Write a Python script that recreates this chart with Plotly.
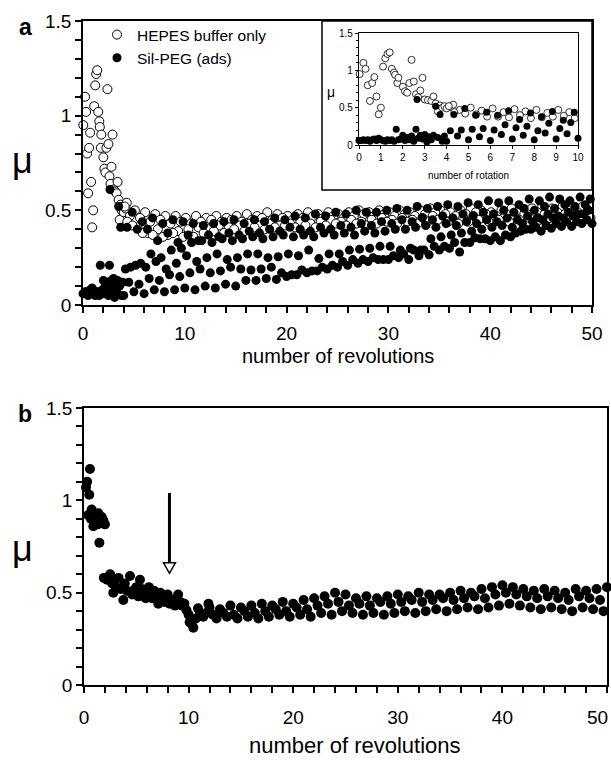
import plotly.graph_objects as go

W, H = 611, 760
FONT = "Arial, Liberation Sans, sans-serif"

# ---------------- data: panel a ----------------
hepes_early_x = [0.03, 0.2, 0.3, 0.4, 0.5, 0.6, 0.7, 0.8, 0.9, 1.0, 1.1, 1.2, 1.3, 1.4, 1.5, 1.6, 1.65, 1.75,
                 1.8, 2.0, 2.1, 2.2, 2.3, 2.4, 2.5, 2.6, 2.7, 2.8, 2.9, 3.0, 3.15, 3.3, 3.4, 3.5, 3.6, 3.7,
                 3.8, 3.9, 4.0, 4.2, 4.3]
hepes_early_y = [0.95, 1.10, 1.02, 0.80, 0.59, 0.83, 0.91, 0.65, 0.41, 0.50, 1.05, 1.16, 1.22, 1.24, 1.02, 0.97,
                 0.94, 0.83, 0.90, 0.78, 0.72, 0.70, 0.83, 1.14, 0.85, 0.68, 0.64, 0.73, 0.90, 0.61, 0.60, 0.59,
                 0.65, 0.555, 0.45, 0.53, 0.50, 0.52, 0.49, 0.51, 0.54]

peg_early_x = [0.0, 0.1, 0.2, 0.3, 0.4, 0.5, 0.6, 0.7, 0.8, 0.9, 1.0, 1.1, 1.2, 1.3, 1.4, 1.5, 1.6, 1.7, 1.8,
               1.9, 2.0, 2.1, 2.2, 2.3, 2.4, 2.5, 2.6, 2.65, 2.7, 2.8, 2.9, 3.0, 3.1, 3.2, 3.3, 3.4, 3.5, 3.6,
               3.7, 3.8, 3.9]
peg_early_y = [0.06, 0.06, 0.07, 0.06, 0.07, 0.05, 0.07, 0.08, 0.06, 0.09, 0.07, 0.06, 0.05, 0.07, 0.06, 0.07,
               0.05, 0.21, 0.07, 0.08, 0.13, 0.06, 0.10, 0.07, 0.12, 0.05, 0.21, 0.61, 0.09, 0.13, 0.08, 0.14,
               0.04, 0.11, 0.07, 0.13, 0.52, 0.10, 0.41, 0.05, 0.12]

revs_a = [4, 5, 6, 7, 8, 9, 10, 11, 12, 13, 14, 15, 16, 17, 18, 19, 20, 21, 22, 23, 24, 25, 26, 27, 28, 29, 30,
          31, 32, 33, 34, 35, 36, 37, 38, 39, 40, 41, 42, 43, 44, 45, 46, 47, 48, 49, 50]

# position of each sampled band within a revolution (fraction of a turn)
hepes_phases = [0.1, 0.6, 0.35, 0.85]
hepes_o1 = [0.52, 0.50, 0.49, 0.48, 0.47, 0.47, 0.46, 0.47, 0.46, 0.47, 0.46, 0.47, 0.48, 0.47, 0.49, 0.48,
            0.47, 0.48, 0.49, 0.48, 0.49, 0.48, 0.49, 0.50, 0.49, 0.50, 0.49, 0.50, 0.49, 0.50, 0.51, 0.50,
            0.49, 0.50, 0.51, 0.50, 0.49, 0.50, 0.51, 0.50, 0.51, 0.52, 0.51, 0.52, 0.51, 0.52, 0.51]
hepes_o2 = [0.47, 0.46, 0.44, 0.45, 0.43, 0.44, 0.43, 0.44, 0.45, 0.44, 0.45, 0.44, 0.45, 0.46, 0.45, 0.46,
            0.45, 0.46, 0.47, 0.46, 0.47, 0.46, 0.47, 0.48, 0.47, 0.48, 0.47, 0.48, 0.47, 0.48, 0.49, 0.48,
            0.47, 0.48, 0.49, 0.48, 0.47, 0.48, 0.49, 0.48, 0.49, 0.50, 0.49, 0.50, 0.49, 0.50, 0.49]
hepes_o3 = [0.44, 0.41, 0.38, 0.40, 0.37, 0.39, 0.40, 0.41, 0.40, 0.42, 0.41, 0.42, 0.43, 0.42, 0.43, 0.42,
            0.43, 0.44, 0.43, 0.44, 0.45, 0.44, 0.45, 0.44, 0.45, 0.46, 0.45, 0.46, 0.45, 0.46, 0.47, 0.46,
            0.45, 0.46, 0.47, 0.46, 0.47, 0.46, 0.47, 0.48, 0.47, 0.48, 0.47, 0.48, 0.47, 0.48, 0.49]
hepes_o4 = [0.42, 0.38, 0.37, 0.36, 0.38, 0.36, 0.36, 0.38, 0.39, 0.38, 0.40, 0.39, 0.41, 0.40, 0.41, 0.42,
            0.41, 0.42, 0.41, 0.42, 0.43, 0.42, 0.43, 0.42, 0.43, 0.44, 0.43, 0.44, 0.43, 0.44, 0.45, 0.44,
            0.43, 0.44, 0.45, 0.44, 0.45, 0.44, 0.45, 0.46, 0.45, 0.46, 0.45, 0.46, 0.45, 0.46, 0.47]

peg_phases = [0.0, 0.5, 0.17, 0.67, 0.33, 0.83]
peg_f1 = [0.05, 0.07, 0.06, 0.08, 0.07, 0.08, 0.09, 0.08, 0.10, 0.09, 0.11, 0.10, 0.13, 0.13, 0.14, 0.135,
          0.15, 0.16, 0.17, 0.18, 0.19, 0.20, 0.21, 0.22, 0.23, 0.24, 0.24, 0.25, 0.24, 0.26, 0.265, 0.29,
          0.30, 0.28, 0.33, 0.35, 0.34, 0.34, 0.36, 0.39, 0.40, 0.39, 0.405, 0.415, 0.415, 0.43, 0.43]
peg_f2 = [0.12, 0.11, 0.14, 0.13, 0.16, 0.15, 0.17, 0.19, 0.17, 0.18, 0.20, 0.19, 0.185, 0.19, 0.20, 0.17,
          0.16, 0.185, 0.18, 0.20, 0.21, 0.23, 0.24, 0.24, 0.25, 0.24, 0.26, 0.27, 0.29, 0.29, 0.31, 0.31,
          0.33, 0.33, 0.355, 0.35, 0.36, 0.37, 0.38, 0.40, 0.41, 0.42, 0.43, 0.44, 0.44, 0.45, 0.46]
peg_f3 = [0.19, 0.21, 0.20, 0.23, 0.19, 0.22, 0.26, 0.23, 0.25, 0.27, 0.24, 0.25, 0.27, 0.27, 0.25, 0.255,
          0.27, 0.26, 0.29, 0.245, 0.27, 0.27, 0.29, 0.295, 0.30, 0.31, 0.31, 0.29, 0.30, 0.29, 0.35, 0.36,
          0.37, 0.38, 0.39, 0.40, 0.41, 0.42, 0.41, 0.43, 0.44, 0.45, 0.46, 0.46, 0.47, 0.48, 0.47]
peg_f4 = [0.20, 0.22, 0.27, 0.25, 0.29, 0.30, 0.33, 0.34, 0.33, 0.35, 0.34, 0.35, 0.36, 0.35, 0.36, 0.37,
          0.36, 0.37, 0.36, 0.38, 0.37, 0.38, 0.37, 0.39, 0.38, 0.39, 0.40, 0.40, 0.41, 0.42, 0.41, 0.43,
          0.42, 0.44, 0.43, 0.45, 0.44, 0.46, 0.45, 0.47, 0.46, 0.48, 0.47, 0.49, 0.48, 0.50, 0.49]
peg_f5 = [0.41, 0.40, 0.40, 0.34, 0.38, 0.33, 0.37, 0.34, 0.37, 0.36, 0.38, 0.37, 0.39, 0.38, 0.40, 0.39,
          0.41, 0.40, 0.39, 0.41, 0.40, 0.42, 0.41, 0.43, 0.42, 0.44, 0.43, 0.45, 0.44, 0.46, 0.45, 0.47,
          0.46, 0.48, 0.47, 0.49, 0.48, 0.50, 0.49, 0.51, 0.50, 0.52, 0.51, 0.53, 0.52, 0.53, 0.52]
peg_f6 = [0.49, 0.44, 0.46, 0.43, 0.45, 0.44, 0.43, 0.42, 0.43, 0.44, 0.45, 0.43, 0.45, 0.44, 0.46, 0.45,
          0.47, 0.46, 0.48, 0.47, 0.49, 0.48, 0.50, 0.49, 0.49, 0.50, 0.51, 0.50, 0.52, 0.51, 0.52, 0.53,
          0.52, 0.54, 0.53, 0.55, 0.54, 0.55, 0.53, 0.56, 0.55, 0.57, 0.56, 0.55, 0.57, 0.56, 0.58]

# ---------------- data: panel b ----------------
b_early_x = [0.19, 0.3, 0.4, 0.5, 0.57, 0.65, 0.73, 0.8, 0.89, 1.0, 1.05, 1.2, 1.3, 1.37, 1.47, 1.55, 1.69,
             1.85, 2.0, 1.9, 2.2, 2.5, 2.7, 2.8, 2.96, 3.1, 3.3, 3.5, 3.76, 3.9, 4.1, 4.4, 4.6, 4.7, 5.0, 5.2,
             5.35, 5.5, 5.7, 5.9, 6.2, 6.4, 6.5, 6.7, 6.9, 7.1, 7.3, 7.5, 7.7, 8.0, 8.2, 8.5, 8.7, 9.0, 9.2,
             9.4, 9.6, 9.8, 10.0, 10.1, 10.3, 10.45, 10.7, 10.9, 11.1, 11.4, 11.7, 11.9]
b_early_y = [1.07, 1.10, 0.92, 1.03, 1.17, 0.90, 0.95, 0.92, 0.86, 0.88, 0.91, 0.89, 0.87, 0.93, 0.77, 0.90,
             0.91, 0.89, 0.87, 0.58, 0.57, 0.60, 0.55, 0.50, 0.57, 0.53, 0.58, 0.52, 0.46, 0.55, 0.51, 0.59,
             0.49, 0.51, 0.53, 0.48, 0.57, 0.52, 0.50, 0.47, 0.53, 0.49, 0.47, 0.51, 0.48, 0.44, 0.50, 0.47,
             0.45, 0.49, 0.44, 0.46, 0.43, 0.49, 0.45, 0.43, 0.44, 0.405, 0.38, 0.34, 0.33, 0.31, 0.36, 0.415,
             0.39, 0.37, 0.39, 0.44]

revs_b = [12, 13, 14, 15, 16, 17, 18, 19, 20, 21, 22, 23, 24, 25, 26, 27, 28, 29, 30, 31, 32, 33, 34, 35, 36,
          37, 38, 39, 40, 41, 42, 43, 44, 45, 46, 47, 48, 49, 50]
b_phases = [0.0, 0.33, 0.67]
b_top = [0.42, 0.41, 0.43, 0.42, 0.43, 0.44, 0.43, 0.45, 0.44, 0.46, 0.47, 0.48, 0.50, 0.49, 0.47, 0.48, 0.47,
         0.48, 0.49, 0.48, 0.50, 0.49, 0.49, 0.50, 0.51, 0.50, 0.52, 0.53, 0.54, 0.53, 0.52, 0.51, 0.52, 0.51,
         0.50, 0.52, 0.51, 0.52, 0.53]
b_mid = [0.38, 0.39, 0.38, 0.40, 0.39, 0.40, 0.41, 0.40, 0.42, 0.41, 0.43, 0.44, 0.45, 0.43, 0.44, 0.43, 0.45,
         0.44, 0.45, 0.46, 0.45, 0.46, 0.47, 0.46, 0.47, 0.48, 0.47, 0.49, 0.50, 0.49, 0.48, 0.47, 0.48, 0.47,
         0.46, 0.48, 0.47, 0.46, 0.48]
b_low = [0.36, 0.37, 0.36, 0.37, 0.36, 0.37, 0.38, 0.37, 0.38, 0.37, 0.39, 0.38, 0.40, 0.39, 0.38, 0.39, 0.38,
         0.39, 0.40, 0.39, 0.40, 0.41, 0.40, 0.41, 0.42, 0.41, 0.42, 0.43, 0.44, 0.43, 0.42, 0.41, 0.42, 0.41,
         0.40, 0.42, 0.41, 0.40, 0.42]

x_ticks = [0, 10, 20, 30, 40, 50]
x_tick_text = ["0", "10", "20", "30", "40", "50"]
b_x_tick_text = ["0", "10", "20", "30", "40", ""]   # last label drawn separately (shifted left, as in original)
y_ticks = [0, 0.5, 1, 1.5]
y_tick_text = ["0", "0.5", "1", "1.5"]
inset_x_ticks = [0, 1, 2, 3, 4, 5, 6, 7, 8, 9, 10]


def combine(early_x, early_y, revs, phases, bands, xmax=50.0):
    xs, ys = list(early_x), list(early_y)
    for ph, band in zip(phases, bands):
        for r, v in zip(revs, band):
            if r + ph <= xmax + 1e-9:
                xs.append(r + ph)
                ys.append(v)
    return xs, ys


def limit(xs, ys, xmax):
    pairs = [(a, b) for a, b in zip(xs, ys) if a <= xmax]
    return [p[0] for p in pairs], [p[1] for p in pairs]


hx, hy = combine(hepes_early_x, hepes_early_y, revs_a, hepes_phases,
                 [hepes_o1, hepes_o2, hepes_o3, hepes_o4])
sx, sy = combine(peg_early_x, peg_early_y, revs_a, peg_phases,
                 [peg_f1, peg_f2, peg_f3, peg_f4, peg_f5, peg_f6])
bx, by = combine(b_early_x, b_early_y, revs_b, b_phases, [b_top, b_mid, b_low])


def px(x):
    return x / W


def py(y):
    return 1 - y / H


fig = go.Figure()

open_marker = dict(symbol="circle", size=9, color="white", line=dict(color="black", width=1))
full_marker = dict(symbol="circle", size=9, color="black", line=dict(color="black", width=0))

fig.add_trace(go.Scatter(x=hx, y=hy, mode="markers", marker=open_marker, name="HEPES buffer only",
                         xaxis="x", yaxis="y", cliponaxis=False))
fig.add_trace(go.Scatter(x=sx, y=sy, mode="markers", marker=full_marker, name="Sil-PEG (ads)",
                         xaxis="x", yaxis="y", cliponaxis=False))

ihx, ihy = limit(hx, hy, 10.0)
isx, isy = limit(sx, sy, 10.0)
fig.add_trace(go.Scatter(x=ihx, y=ihy, mode="markers", showlegend=False,
                         marker=dict(symbol="circle", size=7, color="white", line=dict(color="black", width=0.8)),
                         xaxis="x3", yaxis="y3", cliponaxis=False))
fig.add_trace(go.Scatter(x=isx, y=isy, mode="markers", showlegend=False,
                         marker=dict(symbol="circle", size=7, color="black"),
                         xaxis="x3", yaxis="y3", cliponaxis=False))

fig.add_trace(go.Scatter(x=bx, y=by, mode="markers", showlegend=False,
                         marker=dict(symbol="circle", size=10, color="black"),
                         xaxis="x2", yaxis="y2", cliponaxis=False))

tickfont = dict(family=FONT, size=19, color="black")
base = dict(showline=True, linecolor="black", linewidth=1.5, mirror=True, ticks="outside", ticklen=6,
            tickwidth=1.5, tickcolor="black", showgrid=False, zeroline=False, tickfont=tickfont,
            automargin=False)
xminor = dict(ticks="outside", dtick=2, tick0=0, ticklen=6, tickwidth=1.5, tickcolor="black")
yminor = dict(ticks="outside", dtick=0.1, tick0=0, ticklen=6, tickwidth=1.5, tickcolor="black")

fig.update_layout(
    width=W, height=H, margin=dict(l=0, r=0, t=0, b=0, autoexpand=False),
    paper_bgcolor="white", plot_bgcolor="white",
    font=dict(family=FONT, color="black"),
    xaxis=dict(base, domain=[px(83), px(592)], range=[0, 50], anchor="y", tickvals=x_ticks,
               ticktext=x_tick_text, ticklabelstandoff=4, minor=xminor),
    yaxis=dict(base, domain=[py(305), py(21)], range=[0, 1.5], anchor="x", tickvals=y_ticks,
               ticktext=y_tick_text, minor=yminor),
    xaxis2=dict(base, domain=[px(84), px(607)], range=[0, 50], anchor="y2", tickvals=x_ticks,
                ticktext=b_x_tick_text, ticklabelstandoff=8, minor=xminor),
    yaxis2=dict(base, domain=[py(685), py(408)], range=[0, 1.5], anchor="x2", tickvals=y_ticks,
                ticktext=y_tick_text, minor=yminor),
    xaxis3=dict(showline=True, linecolor="black", linewidth=1.2, mirror=True, ticks="outside", ticklen=3,
                tickwidth=1, tickcolor="black", showgrid=False, zeroline=False, automargin=False,
                tickfont=dict(family=FONT, size=10, color="black"),
                domain=[px(359), px(578)], range=[0, 10], anchor="y3", tickvals=inset_x_ticks),
    yaxis3=dict(showline=True, linecolor="black", linewidth=1.2, mirror=True, ticks="outside", ticklen=3,
                tickwidth=1, tickcolor="black", showgrid=False, zeroline=False, automargin=False,
                tickfont=dict(family=FONT, size=10, color="black"),
                domain=[py(145), py(33)], range=[0, 1.5], anchor="x3", tickvals=y_ticks, ticktext=y_tick_text,
                minor=dict(ticks="outside", dtick=0.1, tick0=0, ticklen=2, tickwidth=1, tickcolor="black")),
    legend=dict(x=px(97), y=py(18), xanchor="left", yanchor="top", bgcolor="rgba(0,0,0,0)",
                font=dict(family=FONT, size=15.5, color="black"), tracegroupgap=0, itemwidth=30),
)

# inset frame
fig.add_shape(type="rect", xref="paper", yref="paper", x0=px(322), x1=px(592), y0=py(190), y1=py(21),
              line=dict(color="black", width=1.5), fillcolor="rgba(0,0,0,0)", layer="above")

# arrow in panel b
fig.add_shape(type="line", xref="x2", yref="y2", x0=8.17, x1=8.17, y0=1.04, y1=0.66,
              line=dict(color="black", width=3))
fig.add_shape(type="path", xref="x2", yref="y2", path="M 7.6 0.662 L 8.74 0.662 L 8.17 0.605 Z",
              line=dict(color="black", width=1.5), fillcolor="white")

ann = [
    dict(text="<b>a</b>", x=px(25), y=py(27), size=23),
    dict(text="<b>b</b>", x=px(25), y=py(414), size=23),
    dict(text="μ", x=px(22), y=py(161), size=36),
    dict(text="μ", x=px(22), y=py(548), size=36),
    dict(text="number of revolutions", x=px(338), y=py(356), size=20),
    dict(text="number of revolutions", x=px(355), y=py(745), size=22),
    dict(text="50", x=px(597), y=py(717), size=19),
    dict(text="μ", x=px(331), y=py(92), size=14),
    dict(text="number of rotation", x=px(468), y=py(175), size=10),
]
for a in ann:
    fig.add_annotation(text=a["text"], x=a["x"], y=a["y"], xref="paper", yref="paper", showarrow=False,
                       xanchor="center", yanchor="middle",
                       font=dict(family=FONT, size=a["size"], color="black"))

fig.write_html("out.html", config={"displayModeBar": False},
               post_script="document.body.style.margin='0px';document.body.style.overflow='hidden';")
